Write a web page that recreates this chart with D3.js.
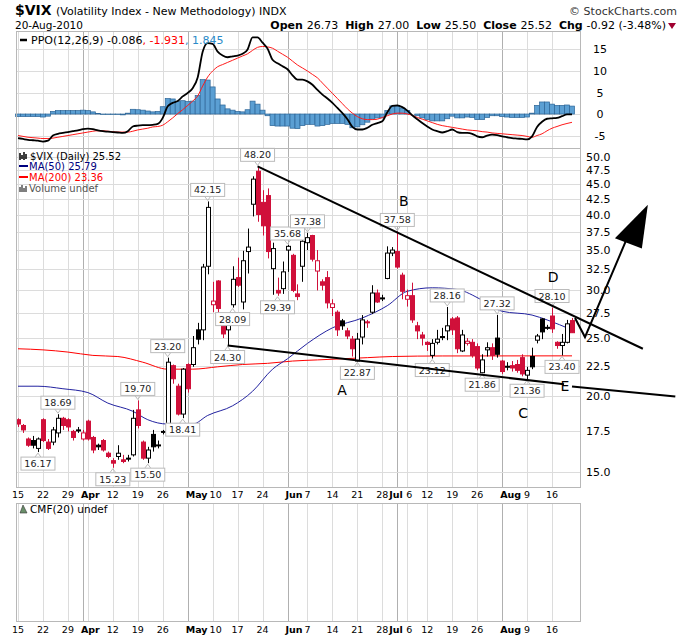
<!DOCTYPE html>
<html><head><meta charset="utf-8">
<script src="https://cdn.jsdelivr.net/npm/d3@7"></script>
<style>body{margin:0;background:#fff}svg{display:block}text{font-family:"DejaVu Sans",sans-serif}</style>
</head><body>
<svg id="c" width="683" height="639"></svg>
<script>
// ---------- data ----------
const holidays = ["2010-04-02","2010-05-31","2010-07-05"];
const open  = [18.3,17.9,17.0,16.9,16.4,18.3,16.8,16.8,17.4,18.4, 18.3,17.5,17.6,17.0,18.2,17.1,16.6,16.9,16.1,15.65, 15.9,15.7,15.8,16.0,19.0,16.8,15.8,17.3,16.6,17.5, 18.0,22.5,20.8,18.7,22.6,22.6,25.8,25.8,32.9,28.4, 31.1,26.7,25.8,28.4,31.5,28.7,34.8,41.7,47.3,42.0, 43.1,32.6,30.0,30.2,35.0,34.3,29.6,32.9,36.0,37.0, 32.3,31.0,31.5,28.1,27.6,26.7,25.7,24.9,22.9,25.1, 26.6,27.6,29.7,29.15,31.4,34.6,34.8,31.8,29.0,29.4, 26.2,25.3,24.6,23.4,24.6,25.15,25.7,26.9,27.0,23.8, 24.5,24.6,24.2,21.9,23.9,24.1,25.0,22.9,22.45,22.5, 22.6,23.2,21.7,23.3,24.8,26.9,26.05,27.2,24.6,24.3, 24.6,26.73];
const high  = [18.4,18.0,17.1,17.2,17.1,18.4,17.0,17.8,18.69,18.5, 18.4,17.6,17.8,17.6,18.3,17.2,16.7,17.0,16.2,15.8, 16.6,16.0,16.0,19.0,19.70,16.9,16.5,17.6,16.9,17.6, 23.20,22.6,21.0,22.3,22.7,25.2,26.5,33.2,42.15,31.0, 31.2,27.0,26.8,32.9,34.0,34.9,38.0,46.4,48.20,44.0, 44.3,36.0,31.5,33.5,35.68,34.5,30.7,36.5,37.38,37.1, 35.0,31.3,32.3,29.0,27.8,26.9,26.0,25.2,25.5,27.3, 26.8,30.6,30.1,29.5,35.5,35.4,37.58,32.1,30.1,30.9, 26.6,25.6,24.7,24.9,25.8,26.0,28.16,27.1,27.2,25.8, 25.0,24.9,24.5,23.5,24.6,24.5,27.32,23.0,22.8,22.9, 23.0,23.5,22.4,24.1,25.4,27.0,26.3,28.10,24.7,25.4, 26.8,27.00];
const low   = [17.8,17.4,16.5,16.4,16.17,16.8,16.3,16.6,17.1,17.6, 17.5,16.9,17.4,16.9,16.9,16.1,16.3,16.2,15.8,15.23, 15.7,15.5,15.6,15.9,17.7,15.7,15.50,16.2,16.4,17.3, 17.9,21.0,18.6,18.41,20.3,22.4,24.4,24.8,31.9,27.6, 26.4,25.0,24.30,28.09,30.4,27.9,32.0,39.8,39.0,37.0, 33.9,29.5,29.39,29.6,32.2,29.8,28.9,31.0,35.0,33.5, 30.0,30.0,28.0,27.2,25.2,25.8,24.9,23.3,22.87,24.4, 26.0,27.4,28.6,28.8,31.3,34.2,32.6,29.0,28.2,26.5, 24.9,24.3,23.8,23.12,24.4,24.8,24.8,25.3,23.6,23.7, 24.3,23.2,22.1,21.86,23.3,23.0,23.2,21.8,22.1,22.0, 21.9,21.6,21.36,22.2,24.5,24.9,25.8,25.5,24.0,23.40, 24.5,25.50];
const close = [18.0,17.6,16.6,16.6,17.0,16.9,16.4,17.6,18.4,17.9, 17.8,17.1,17.55,17.4,17.0,16.3,16.5,16.3,15.9,15.5, 16.1,15.6,15.75,18.4,17.9,15.8,16.3,16.5,16.62,17.47, 22.8,21.4,18.7,22.2,20.6,24.1,24.9,32.8,41.2,28.8, 28.0,25.4,26.4,31.3,30.6,33.6,35.4,45.9,40.1,38.4, 34.8,35.2,29.7,32.2,35.5,30.0,29.3,36.2,36.7,33.8, 33.6,30.6,28.6,28.5,25.8,26.2,25.2,24.0,24.9,26.8, 26.5,29.7,28.7,29.1,34.6,35.0,32.8,29.9,29.4,26.8, 25.7,25.0,24.4,24.5,24.9,25.1,26.2,25.8,24.0,25.3, 24.7,23.4,22.3,23.0,24.1,23.4,23.5,22.0,22.4,22.3, 22.1,21.8,22.1,22.4,25.2,25.6,26.0,25.9,24.3,24.6, 26.4,25.52];
const ppo = [-5.6,-5.8,-6.0,-6.1,-6.2,-6.4,-6.2,-5.0,-4.6,-4.4, -4.2,-4.0,-3.8,-3.5,-3.4,-3.5,-3.8,-4.0,-4.1,-4.2, -4.3,-4.4,-4.0,-2.9,-2.7,-2.6,-2.6,-2.5,-2.3,-0.9, 1.8,2.6,3.0,4.1,4.9,6.0,8.5,14.5,16.5,16.3, 14.5,13.6,13.2,13.4,13.6,14.0,15.0,17.8,17.8,16.6, 15.2,12.6,11.8,11.1,10.4,9.0,8.0,8.0,7.6,6.8, 5.6,4.5,3.6,2.6,1.4,0.2,-1.2,-3.0,-3.6,-3.6, -3.2,-2.5,-2.1,-1.7,0.4,1.9,2.0,1.6,0.8,-0.3, -1.2,-2.1,-2.9,-3.6,-4.0,-4.3,-4.0,-3.6,-4.2,-4.4, -4.4,-4.6,-5.2,-5.4,-5.0,-4.8,-4.9,-5.2,-5.4,-5.6, -5.7,-5.8,-5.9,-5.2,-3.0,-1.8,-1.1,-1.0,-0.9,-0.5, -0.1,-0.086];
const signal = [-5.0,-5.2,-5.4,-5.5,-5.6,-5.7,-5.7,-5.6,-5.4,-5.2, -5.0,-4.8,-4.6,-4.4,-4.2,-4.0,-3.9,-3.9,-4.0,-4.1, -4.2,-4.2,-4.2,-4.0,-3.7,-3.5,-3.3,-3.0,-2.9,-2.6, -1.8,-0.9,0.1,1.0,2.0,3.0,4.2,6.5,8.6,10.0, 11.0,11.5,12.0,12.5,13.0,13.5,14.0,14.8,15.5,15.7, 15.6,15.3,14.6,13.9,13.2,12.3,11.4,10.7,10.0,9.2, 8.4,7.2,6.0,4.8,3.6,2.4,1.2,0.2,-0.6,-1.1, -1.3,-1.3,-1.2,-0.8,-0.4,0.0,0.2,0.2,0.0,-0.3, -0.8,-1.2,-1.6,-2.0,-2.4,-2.7,-2.9,-3.1,-3.3,-3.5, -3.7,-3.8,-3.9,-4.1,-4.2,-4.4,-4.5,-4.6,-4.7,-4.8, -4.9,-5.0,-5.2,-5.4,-5.0,-4.6,-3.9,-3.3,-2.9,-2.5, -2.2,-1.931];
// moving averages read at selected days: [dayIndex, value]
const ma50 = [[0,20.8],[4,20.8],[9,20.6],[14,20.3],[18,19.5],[23,18.9],[26,18.3],[30,18.0],[35,18.0],[38,18.6],[43,19.3],[47,20.4],[51,22.2],[54,23.1],[58,24.5],[63,26.0],[69,27.0],[74,28.3],[78,29.9],[83,30.3],[88,30.1],[93,28.9],[97,27.7],[103,27.3],[106,26.8],[111,25.79]];
const ma200 = [[0,24.0],[5,23.9],[10,23.7],[15,23.4],[20,23.3],[25,22.8],[30,22.2],[35,22.2],[40,22.4],[45,22.6],[50,22.7],[55,22.9],[60,23.0],[65,23.1],[70,23.2],[75,23.3],[85,23.35],[111,23.36]];
const highLabels = [[8,"18.69"],[24,"19.70"],[30,"23.20"],[38,"42.15"],[48,"48.20"],[54,"35.68"],[58,"37.38"],[76,"37.58"],[86,"28.16"],[96,"27.32"],[107,"28.10"]];
const lowLabels = [[4,"16.17"],[19,"15.23"],[26,"15.50"],[33,"18.41"],[42,"24.30"],[43,"28.09"],[52,"29.39"],[68,"22.87"],[83,"23.12"],[93,"21.86"],[102,"21.36"],[109,"23.40"]];
const tickLabels = [["2010-03-15","15",0],["2010-03-22","22",0],["2010-03-29","29",0],["2010-04-01","Apr",1],["2010-04-05","",0],["2010-04-12","12",0],["2010-04-19","19",0],["2010-04-26","26",0],["2010-05-03","May",1],["2010-05-10","10",0],["2010-05-17","17",0],["2010-05-24","24",0],["2010-06-01","Jun",1],["2010-06-07","7",0],["2010-06-14","14",0],["2010-06-21","21",0],["2010-06-28","28",0],["2010-07-01","Jul",1],["2010-07-06","6",0],["2010-07-12","12",0],["2010-07-19","19",0],["2010-07-26","26",0],["2010-08-02","Aug",1],["2010-08-09","9",0],["2010-08-16","16",0]];
const priceTicks = [15,17.5,20,22.5,25,27.5,30,32.5,35,37.5,40,42.5,45,47.5,50];
const ppoTicks = [15,10,5,0,-5];
// hand-drawn annotations in (dayIndex, price)
const trendUpper = [[48,48.2],[125.2,24.0]];
const trendLower1 = [[42,24.3],[109.4,20.95]];
const trendLower2 = [[111,20.78],[131.7,20.0]];
const arrowPath = [[111.6,27.0],[113.6,25.1],[122.2,36.9]];
const arrowHead = [[126.2,41.6],[119.6,36.6],[125,35.2]];
const letters = [["A",64.9,20.5],["B",77.3,42.2],["C",101.2,18.8],["D",107.2,31.6],["E",109.6,20.8]];

// ---------- dates ----------
const dates = [];
for (let d = new Date(Date.UTC(2010,2,15)); d <= new Date(Date.UTC(2010,7,20)); d.setUTCDate(d.getUTCDate()+1)) {
  const wd = d.getUTCDay(); const s = d.toISOString().slice(0,10);
  if (wd>0 && wd<6 && !holidays.includes(s)) dates.push(s);
}
const N = dates.length;

// ---------- layout ----------
const svg = d3.select("#c");
const L = 16, R = 580;
const x = d3.scaleLinear().domain([0, N-1]).range([18, 572]);
const yP = d3.scaleLinear().domain([-7.9, 19.3]).range([148, 31]);
const y = d3.scaleLog().domain([14.15, 51.7]).range([487, 148]);
const AR = "Liberation Sans";

// header
svg.append("text").attr("x",15).attr("y",15).attr("font-size",14).attr("font-weight","bold").attr("font-family",AR).text("$VIX");
svg.append("text").attr("x",56).attr("y",15).attr("font-size",11).attr("font-family",AR).text("(Volatility Index - New Methodology) INDX");
svg.append("text").attr("x",677).attr("y",15).attr("font-size",11).attr("text-anchor","end").attr("fill","#333").attr("font-family",AR).text("© StockCharts.com");
svg.append("text").attr("x",15).attr("y",29).attr("font-size",10.5).attr("font-family",AR).text("20-Aug-2010");
const hdr = svg.append("text").attr("x",666).attr("y",29).attr("font-size",11).attr("text-anchor","end").attr("font-family",AR);
[["Open ",1],["26.73  ",0],["High ",1],["27.00  ",0],["Low ",1],["25.50  ",0],["Close ",1],["25.52  ",0],["Chg ",1],["-0.92 (-3.48%)",0]].forEach(([t,b])=>hdr.append("tspan").attr("font-weight",b?"bold":"normal").attr("xml:space","preserve").text(t));
svg.append("path").attr("d","M668,23 L676,23 L672,29 Z").attr("fill","#a00030");

const idx = s => dates.indexOf(s);

function panel(top, bottom) {
  svg.append("rect").attr("x",L).attr("y",top).attr("width",R-L).attr("height",bottom-top).attr("fill","#fff");
  tickLabels.forEach(([d,lab,b]) => {
    const xi = Math.round(x(idx(d)))+0.5;
    svg.append("line").attr("x1",xi).attr("x2",xi).attr("y1",top).attr("y2",bottom).attr("stroke",b?"#b0b0b0":"#dcdcdc");
  });
}
function border(top,bottom){
  svg.append("rect").attr("x",L+0.5).attr("y",top+0.5).attr("width",R-L).attr("height",bottom-top).attr("fill","none").attr("stroke","#b8b8b8");
}
function dateAxis(yy) {
  tickLabels.forEach(([d,lab,b]) => {
    if (!lab) return;
    const t = svg.append("text").attr("x",x(idx(d))).attr("y",yy).attr("font-size",9.5).attr("font-weight",b?"bold":"normal")
      .attr("font-family",AR).attr("text-anchor",b?"start":"middle").attr("dx",b?-2:0).text(lab);
    if (lab==="Jul") t.attr("dx",-8);
    if (lab==="6") t.attr("dx",2);
    if (lab==="10" && d.startsWith("2010-05")) t.attr("dx",3);
  });
}

// ---------- PPO panel ----------
panel(31,148);
ppoTicks.forEach(v=>{
  svg.append("line").attr("x1",L).attr("x2",R).attr("y1",Math.round(yP(v))+0.5).attr("y2",Math.round(yP(v))+0.5).attr("stroke","#dcdcdc");
  svg.append("text").attr("x",600).attr("y",yP(v)+4).attr("font-size",11).attr("text-anchor","middle").attr("font-family",AR).text(v);
});
svg.append("g").selectAll("rect").data(d3.range(N)).join("rect")
  .attr("x",i=>x(i)-2.5).attr("width",5)
  .attr("y",i=>yP(Math.max(0,ppo[i]-signal[i]))).attr("height",i=>Math.abs(yP(0)-yP(ppo[i]-signal[i])))
  .attr("fill","#5b9fd3").attr("stroke","#2c6496").attr("stroke-width",0.7);
svg.append("path").datum(d3.range(N)).attr("d",d3.line().x(i=>x(i)).y(i=>yP(signal[i])).curve(d3.curveMonotoneX)).attr("fill","none").attr("stroke","#ff1a1a").attr("stroke-width",1);
svg.append("path").datum(d3.range(N)).attr("d",d3.line().x(i=>x(i)).y(i=>yP(ppo[i])).curve(d3.curveMonotoneX)).attr("fill","none").attr("stroke","#000").attr("stroke-width",1.8);
border(31,148);
svg.append("line").attr("x1",20).attr("x2",27).attr("y1",40).attr("y2",40).attr("stroke","#000").attr("stroke-width",2.5);
const pl = svg.append("text").attr("x",31).attr("y",44).attr("font-size",11);
pl.append("tspan").text("PPO(12,26,9) -0.086");
pl.append("tspan").attr("fill","#f00").text(", -1.931");
pl.append("tspan").attr("fill","#2a8ac8").text(", 1.845");

// ---------- main panel ----------
panel(148,487);
priceTicks.forEach(v=>{
  const yy = Math.round(y(v))+0.5;
  svg.append("line").attr("x1",L).attr("x2",R).attr("y1",yy).attr("y2",yy).attr("stroke","#dcdcdc");
  svg.append("text").attr("x",586).attr("y",y(v)+4).attr("font-size",11).attr("font-family",AR).text(v.toFixed(1));
});
svg.append("path").datum(ma200).attr("d",d3.line().x(d=>x(d[0])).y(d=>y(d[1])).curve(d3.curveMonotoneX)).attr("fill","none").attr("stroke","#f00").attr("stroke-width",1);
svg.append("path").datum(ma50).attr("d",d3.line().x(d=>x(d[0])).y(d=>y(d[1])).curve(d3.curveMonotoneX)).attr("fill","none").attr("stroke","#2222a0").attr("stroke-width",1);

const cg = svg.append("g");
d3.range(N).forEach(i=>{
  const up = i===0 ? close[i]>=open[i] : close[i] >= close[i-1];
  const col = up ? "#000" : "#d0103a";
  const hollow = close[i] > open[i];
  const xc = Math.round(x(i))+0.5;
  cg.append("line").attr("x1",xc).attr("x2",xc).attr("y1",y(high[i])).attr("y2",y(low[i])).attr("stroke",col);
  const top = y(Math.max(open[i],close[i])), bot = y(Math.min(open[i],close[i]));
  cg.append("rect").attr("x",xc-2).attr("width",4).attr("y",top).attr("height",Math.max(1,bot-top))
    .attr("fill",hollow?"#fff":col).attr("stroke",col).attr("stroke-width",1);
});

function boxLabel(i, txt, above) {
  const yy = above ? y(high[i]) : y(low[i]);
  const w = txt.length*6+4, h = 13;
  const by = above ? yy-18 : yy+5;
  svg.append("path").attr("d", above ? `M${x(i)-3},${by+h} L${x(i)},${yy-1} L${x(i)+3},${by+h}` : `M${x(i)-3},${by} L${x(i)},${yy+1} L${x(i)+3},${by}`)
     .attr("fill","none").attr("stroke","#bbb");
  svg.append("rect").attr("x",x(i)-w/2).attr("y",by).attr("width",w).attr("height",h).attr("fill","#fff").attr("stroke","#bbb");
  svg.append("text").attr("x",x(i)).attr("y",by+10).attr("font-size",9.5).attr("text-anchor","middle").attr("fill","#222").text(txt);
}
highLabels.forEach(([i,t])=>boxLabel(i,t,true));
lowLabels.forEach(([i,t])=>boxLabel(i,t,false));
border(148,487);

// legend
svg.append("path").attr("d","M20,153 v7 M22,155 v4 M24,152 v8 M26,154 v5").attr("stroke","#000").attr("stroke-width",1.5);
svg.append("text").attr("x",30).attr("y",160).attr("font-size",10).text("$VIX (Daily) 25.52");
svg.append("line").attr("x1",19).attr("x2",28).attr("y1",166).attr("y2",166).attr("stroke","#000080").attr("stroke-width",2);
svg.append("text").attr("x",29).attr("y",170).attr("font-size",10).attr("fill","#000080").text("MA(50) 25.79");
svg.append("line").attr("x1",19).attr("x2",28).attr("y1",177).attr("y2",177).attr("stroke","#f00").attr("stroke-width",2);
svg.append("text").attr("x",29).attr("y",181).attr("font-size",10).attr("fill","#f00").text("MA(200) 23.36");
svg.append("path").attr("d","M20,192 v-5 M22,192 v-7 M24,192 v-4 M26,192 v-6").attr("stroke","#555").attr("stroke-width",1.5);
svg.append("text").attr("x",29).attr("y",192).attr("font-size",10).attr("fill","#555").text("Volume undef");

// annotations
const ln = d3.line().x(d=>x(d[0])).y(d=>y(d[1]));
[trendUpper,trendLower1,trendLower2].forEach(t=>svg.append("path").attr("d",ln(t)).attr("stroke","#000").attr("stroke-width",2).attr("fill","none"));
svg.append("path").attr("d",ln(arrowPath)).attr("stroke","#000").attr("stroke-width",2).attr("fill","none");
svg.append("path").attr("d",ln(arrowHead)+"Z").attr("fill","#000");
letters.forEach(([t,i,v])=>svg.append("text").attr("x",x(i)).attr("y",y(v)+5).attr("font-size",14).attr("text-anchor","middle").attr("font-family",AR).text(t));

dateAxis(498);

// ---------- CMF panel ----------
panel(503,621);
border(503,621);
svg.append("path").attr("d","M20,513 L23,505 L27,513 Z").attr("fill","#6a8f6a").attr("stroke","#333").attr("stroke-width",0.6);
svg.append("text").attr("x",30).attr("y",513).attr("font-size",10.5).text("CMF(20) undef");
dateAxis(633);
</script>
</body></html>
